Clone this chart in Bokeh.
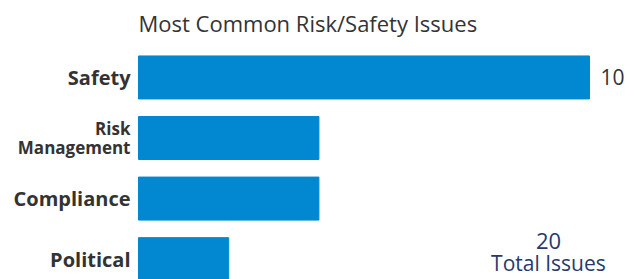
from bokeh.plotting import figure
from bokeh.models import ColumnDataSource, Range1d, Label
from bokeh.core.properties import value
from bokeh.embed import file_html
from bokeh.resources import INLINE

categories = ["Safety", "Risk\nManagement", "Compliance", "Political"]
counts = [10, 4, 4, 2]
title_text = "Most Common Risk/Safety Issues"
total_caption = "Total Issues"

BAR = "#0288D1"
TXT = "#333333"
NAVY = "#27396B"
FONT = "Open Sans"

ys = list(range(len(categories)))
sizes = ["17px" if "\n" in c else "20px" for c in categories]
src = ColumnDataSource(dict(cat=categories, y=ys, v=counts, fs=sizes))

p = figure(width=635, height=279, output_backend="svg", toolbar_location=None,
           x_range=Range1d(-3.060, 11.020), y_range=Range1d(3.336, -0.577),
           min_border=0, min_border_left=0, min_border_right=0,
           min_border_bottom=0, min_border_top=2)
p.axis.visible = False
p.grid.visible = False
p.outline_line_color = None

p.title.text = title_text
p.title.text_font = FONT
p.title.text_font_size = "22px"
p.title.text_font_style = "normal"
p.title.text_color = TXT
p.title.offset = 138

p.hbar(y="y", left=0, right="v", height=0.71, source=src, color=BAR)

p.text(x=0, y="y", text="cat", source=src, x_offset=-8, text_align="right",
       text_baseline="middle", text_font=value(FONT), text_font_style="bold",
       text_font_size="fs", text_color=TXT, text_line_height=0.85)

top = ColumnDataSource(dict(y=[ys[0]], v=[counts[0]], t=[str(counts[0])]))
p.text(x="v", y="y", text="t", source=top, x_offset=11, text_align="left",
       text_baseline="middle", text_font=value(FONT), text_font_size="21px",
       text_color=TXT)

total = sum(counts)
p.add_layout(Label(x=9.09, y=2.693, text=str(total), text_align="center",
                   text_baseline="middle", text_font=FONT, text_font_size="22px",
                   text_color=NAVY))
p.add_layout(Label(x=9.09, y=3.056, text=total_caption, text_align="center",
                   text_baseline="middle", text_font=FONT, text_font_size="21px",
                   text_color=NAVY))

open("out.html", "w").write(file_html(p, INLINE))
